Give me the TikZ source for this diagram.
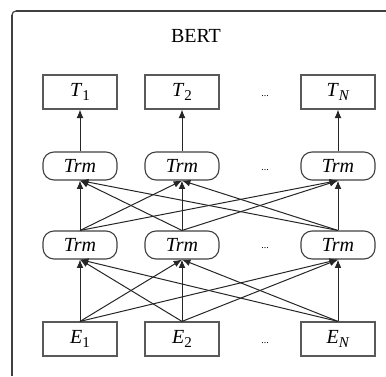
\documentclass[tikz,border=0pt]{standalone}
\usepackage{fontspec}
\setmainfont{Liberation Serif}
\usetikzlibrary{arrows.meta}
\newcommand{\lbl}[2]{\textit{#1}\raisebox{-0.5ex}{\fontsize{7.5pt}{7.5pt}\selectfont #2}}
\begin{document}
\begin{tikzpicture}[x=0.5pt,y=-0.5pt,
  font=\fontsize{10pt}{11pt}\selectfont,
  frame/.style={draw=black!75,line width=0.6pt},
  box/.style={draw=black!65,line width=0.6pt,minimum width=37pt,minimum height=17pt,inner sep=0pt},
  trm/.style={draw=black!75,line width=0.55pt,rounded corners=5.5pt,minimum width=37pt,minimum height=14pt,inner sep=0pt},
  dots/.style={font=\fontsize{5pt}{6pt}\selectfont},
  arr/.style={draw=black!85,line width=0.5pt,-{Latex[length=4.2pt,width=3.4pt]}}]
\path[use as bounding box] (0,0) rectangle (386,376);
\coordinate (fl) at (12,376);
\coordinate (fc) at (12,15);
\coordinate (ft) at (16,11);
\coordinate (fr) at (386,11);
\draw[frame] (fl) -- (fc);
\draw[frame] (fc) arc[start angle=180,end angle=270,radius=4];
\draw[frame] (ft) -- (fr);
\node (title) at (196,36) {BERT};
% outputs
\node[box] (t1) at (80,92) {\lbl{T}{1}};
\node[box] (t2) at (182,92) {\lbl{T}{2}};
\node[box] (tn) at (338,92) {\lbl{T}{\textit{N}}};
\node[dots] (d1) at (265,96) {...};
% upper Trm
\node[trm] (u1) at (80,166) {\textit{Trm}};
\node[trm] (u2) at (182,166) {\textit{Trm}};
\node[trm] (un) at (338,166) {\textit{Trm}};
\node[dots] (d2) at (265,170) {...};
% lower Trm
\node[trm] (l1) at (80,245) {\textit{Trm}};
\node[trm] (l2) at (182,245) {\textit{Trm}};
\node[trm] (ln) at (338,245) {\textit{Trm}};
\node[dots] (d3) at (265,248) {...};
% inputs
\node[box] (e1) at (80,339) {\lbl{E}{1}};
\node[box] (e2) at (182,339) {\lbl{E}{2}};
\node[box] (en) at (338,339) {\lbl{E}{\textit{N}}};
\node[dots] (d4) at (265,343) {...};
% arrows
\draw[arr] (u1.north) -- (t1.south);
\draw[arr] (u2.north) -- (t2.south);
\draw[arr] (un.north) -- (tn.south);
\foreach \a in {l1,l2,ln}{
  \foreach \b in {u1,u2,un}{
    \draw[arr] (\a.north) -- (\b.south);
  }
}
\foreach \a in {e1,e2,en}{
  \foreach \b in {l1,l2,ln}{
    \draw[arr] (\a.north) -- (\b.south);
  }
}
\end{tikzpicture}
\end{document}
